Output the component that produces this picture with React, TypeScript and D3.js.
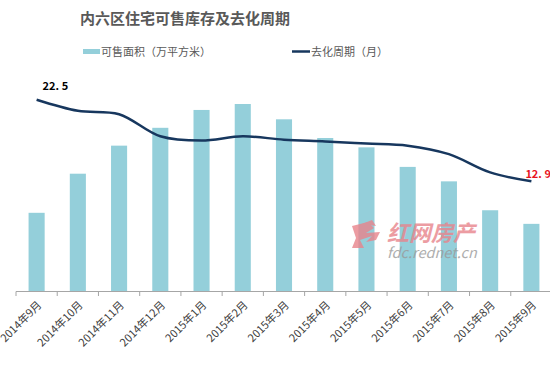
import React from "react";
import * as d3 from "d3";

const months = ["2014年9月","2014年10月","2014年11月","2014年12月","2015年1月","2015年2月","2015年3月","2015年4月","2015年5月","2015年6月","2015年7月","2015年8月","2015年9月"];
const areaValues = [92, 138, 171, 192, 213, 220, 202, 180, 169, 146, 129, 95, 79];
const cycleValues = [22.5, 21.2, 20.8, 18.2, 17.7, 18.2, 17.8, 17.6, 17.35, 17.1, 16.1, 13.95, 12.9];
const title = "内六区住宅可售库存及去化周期";
const legendBar = "可售面积（万平方米）";
const legendLine = "去化周期（月）";

const FONT = "'Noto Sans CJK SC', 'Noto Sans', sans-serif";

export default function App() {
  const W = 550, H = 367;
  const x = d3.scaleBand<string>().domain(months).range([16, 552]).paddingInner(0.61).paddingOuter(0.305);
  const yBar = d3.scaleLinear().domain([0, 250]).range([291, 78.5]);
  const yLine = d3.scaleLinear().domain([0, 25]).range([291, 78.5]);
  const cx = (m: string) => (x(m) as number) + x.bandwidth() / 2;
  const line = d3.line<number>()
    .x((_, i) => cx(months[i]))
    .y((d) => yLine(d))
    .curve(d3.curveCatmullRom.alpha(0.5));
  const step = x.step();
  const ticks = d3.range(months.length + 1).map((i) => 16 + i * step);
  const lastI = months.length - 1;
  return (
    <svg width={W} height={H} style={{ position: "absolute", left: 0, top: 0, background: "#fff" }}>
      <text x={80} y={24} fontFamily={FONT} fontSize={15} fontWeight="bold" fill="#595959">{title}</text>
      <rect x={83} y={49} width={17} height={5} fill="#94CFDA" />
      <text x={101} y={56} fontFamily={FONT} fontSize={11} fill="#595959">{legendBar}</text>
      <line x1={292} x2={310} y1={51.5} y2={51.5} stroke="#17375E" strokeWidth={2.5} />
      <text x={311} y={56} fontFamily={FONT} fontSize={11} fill="#595959">{legendLine}</text>
      {months.map((m, i) => (
        <rect key={m} x={x(m)} y={yBar(areaValues[i])} width={x.bandwidth()} height={291 - yBar(areaValues[i])} fill="#94CFDA" />
      ))}
      {/* watermark */}
      <g opacity={0.8}>
        <path d="M352,226 L368,222 L374,228 L366,233 L380,232 L376,240 L366,242 L372,236 L360,240 L364,248 L352,248 L356,238 Z" fill="#e8848c" />
        <path d="M362,224 L372,220 L376,226 Z" fill="#e8848c" />
        <text x={387} y={241} fontFamily={FONT} fontSize={22} fontWeight="bold" fill="#e8848c" fontStyle="italic">红网房产</text>
        <text x={387} y={258} fontFamily={FONT} fontSize={14.5} fill="#9a9a9a" fontStyle="italic">fdc.rednet.cn</text>
      </g>
      <path d={line(cycleValues) || ""} fill="none" stroke="#17375E" strokeWidth={2.5} />
      <text x={cx(months[0]) + 6} y={90} fontFamily={FONT} fontSize={11} fontWeight="bold" fill="#000">{cycleValues[0].toFixed(1).replace(".", ". ")}</text>
      <text x={cx(months[lastI]) - 6} y={178} fontFamily={FONT} fontSize={11} fontWeight="bold" fill="#e8141e">{cycleValues[lastI].toFixed(1).replace(".", ". ")}</text>
      <line x1={16} x2={550} y1={291.5} y2={291.5} stroke="#a6a6a6" strokeWidth={1} />
      {ticks.map((t, i) => (
        <line key={i} x1={t} x2={t} y1={291.5} y2={296} stroke="#a6a6a6" strokeWidth={1} />
      ))}
      {months.map((m) => (
        <text key={m} transform={`translate(${cx(m) + 3},${303}) rotate(-45)`} textAnchor="end" fontFamily={FONT} fontSize={11} fill="#404040" dy="0.35em">{m}</text>
      ))}
    </svg>
  );
}
